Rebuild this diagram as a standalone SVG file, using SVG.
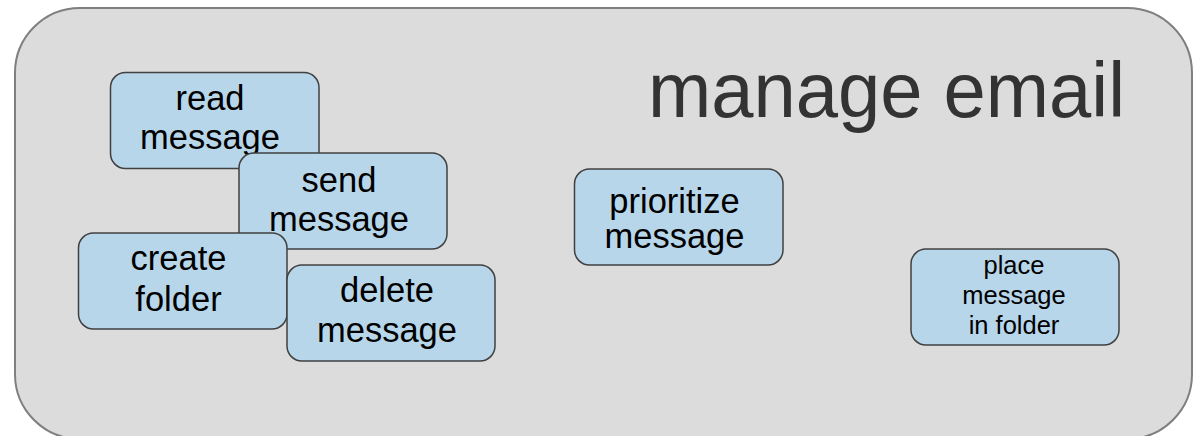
<svg xmlns="http://www.w3.org/2000/svg" width="1194" height="436" viewBox="0 0 1194 436">
  <style>
    .frame { fill: #dcdcdc; stroke: #7f7f7f; stroke-width: 2; }
    .title { font-family: "Liberation Sans", Arial, sans-serif; font-size: 78px; fill: #333333; }
    .box { fill: #b8d6ea; stroke: #404040; stroke-width: 1.5; }
    .lbl { font-family: "Liberation Sans", Arial, sans-serif; font-size: 34.5px; fill: #000000; text-anchor: middle; }
    .lbl-sm { font-family: "Liberation Sans", Arial, sans-serif; font-size: 25.5px; fill: #000000; text-anchor: middle; }
  </style>

  <!-- system boundary -->
  <g id="manage-email">
    <rect class="frame" x="15" y="8" width="1177" height="431" rx="65" ry="65"/>
    <text class="title" x="648" y="117" textLength="477" lengthAdjust="spacingAndGlyphs">manage email</text>
  </g>

  <!-- use cases -->
  <g id="read-message">
    <rect class="box" x="110.5" y="72.5" width="208.5" height="96" rx="15" ry="15"/>
    <text class="lbl" x="210" y="110">read<tspan x="210" dy="39">message</tspan></text>
  </g>

  <g id="send-message">
    <rect class="box" x="239" y="153" width="208" height="96" rx="15" ry="15"/>
    <text class="lbl" x="339" y="191.5">send<tspan x="339" dy="39">message</tspan></text>
  </g>

  <g id="create-folder">
    <rect class="box" x="78.5" y="233" width="208.5" height="96" rx="15" ry="15"/>
    <text class="lbl" x="178.5" y="270">create<tspan x="178.5" dy="40.5">folder</tspan></text>
  </g>

  <g id="delete-message">
    <rect class="box" x="287" y="265" width="208" height="96" rx="15" ry="15"/>
    <text class="lbl" x="387" y="302">delete<tspan x="387" dy="40">message</tspan></text>
  </g>

  <g id="prioritize-message">
    <rect class="box" x="574.5" y="169" width="208.5" height="96" rx="15" ry="15"/>
    <text class="lbl" x="674.5" y="213">prioritize<tspan x="674.5" dy="35">message</tspan></text>
  </g>

  <g id="place-message-in-folder">
    <rect class="box" x="911" y="249" width="208" height="96" rx="15" ry="15"/>
    <text class="lbl-sm" x="1014" y="273.5">place<tspan x="1014" dy="30">message</tspan><tspan x="1014" dy="30">in folder</tspan></text>
  </g>

  <!-- no associations are drawn between the use cases -->
  <g id="connectors"/>
</svg>
